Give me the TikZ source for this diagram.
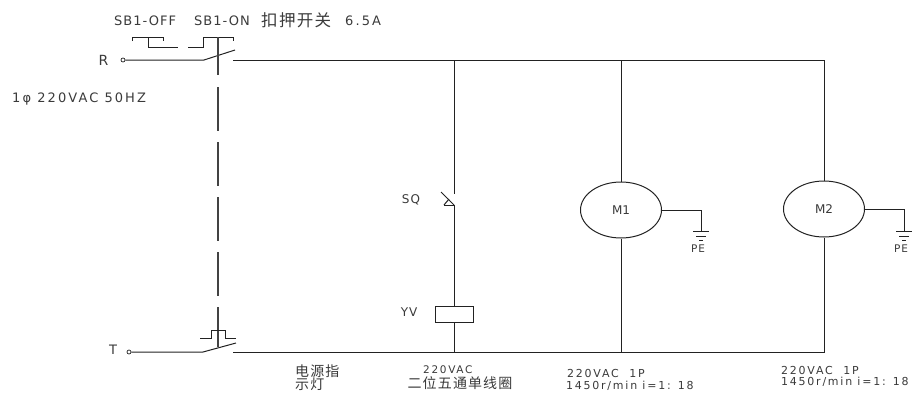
\documentclass[tikz,border=0pt]{standalone}
\usepackage{fontspec}
\setmainfont{DejaVu Sans}
\newfontfamily\wide[LetterSpace=8]{DejaVu Sans}
\newfontfamily\wider[LetterSpace=16]{DejaVu Sans}
\newfontfamily\cjk[LetterSpace=8]{Noto Sans CJK SC}
\usetikzlibrary{shapes.geometric}
\definecolor{wire}{HTML}{222222}
\definecolor{lettering}{HTML}{3A3A3A}
\tikzset{>=latex}
\tikzset{
  wireline/.style={draw=wire, line width=1pt},
  linkline/.style={draw=wire!85, line width=1.4pt},
  terminal/.style={circle, draw=wire, line width=0.7pt, minimum size=4pt, inner sep=0pt},
  motor/.style={ellipse, draw=wire, line width=1pt, minimum width=81pt, minimum height=56pt, inner sep=0pt, font=\fontsize{12}{12}\selectfont, text=lettering},
  coil/.style={rectangle, draw=wire, line width=1pt, minimum width=38pt, minimum height=16pt, inner sep=0pt},
  tag/.style={inner sep=0pt, text=lettering, font=\wide\fontsize{13}{13}\selectfont},
  small/.style={inner sep=0pt, text=lettering, font=\wider\fontsize{11}{11}\selectfont},
  han/.style={inner sep=0pt, text=lettering, font=\cjk\fontsize{14}{14}\selectfont},
}
\begin{document}
\begin{tikzpicture}[x=1pt, y=-1pt]
    \useasboundingbox (0, 0) rectangle (919, 392);
    % labels
    \node[tag, anchor=west] (offlabel) at (114, 21) {SB1-OFF};
    \node[tag, anchor=west] (onlabel) at (194, 21) {SB1-ON};
    \node[han, anchor=west, font=\cjk\fontsize{16.5}{16.5}\selectfont] (switchname) at (261, 20) {扣押开关};
    \node[tag, anchor=west, font=\wider\fontsize{13}{13}\selectfont] (rating) at (345, 21) {6.5A};
    \node[tag, font=\fontsize{14}{14}\selectfont] (rlabel) at (103.5, 60) {R};
    \node[tag, font=\fontsize{13}{13}\selectfont] (tlabel) at (113, 350) {T};
    \node[tag, anchor=west, font=\wider\fontsize{13}{13}\selectfont] (supply) at (12, 99) {1φ 220VAC 50HZ};
    \node[tag, font=\wide\fontsize{12}{12}\selectfont] (sqlabel) at (411, 200) {SQ};
    \node[tag, font=\wide\fontsize{12}{12}\selectfont] (yvlabel) at (409, 312) {YV};
    \node[han, anchor=west] (lampa) at (295, 371) {电源指};
    \node[han, anchor=west] (lampb) at (295, 384) {示灯};
    \node[small, anchor=west, font=\wider\fontsize{10.5}{10.5}\selectfont] (volts) at (423, 370) {220VAC};
    \node[han] (valve) at (460, 383) {二位五通单线圈};
    \node[small, anchor=west] (mota) at (567, 373) {220VAC\ \ 1P};
    \node[small, anchor=west] (motb) at (566, 386) {1450r/min\ i=1: 18};
    \node[small, anchor=west] (motc) at (781, 370) {220VAC\ \ 1P};
    \node[small, anchor=west] (motd) at (781, 382) {1450r/min\ i=1: 18};
    % terminals
    \node[terminal] (R) at (123, 60) {};
    \node[terminal] (T) at (129, 352) {};
    % consumers
    \node[motor] (M1) at (621, 210) {M1};
    \node[motor] (M2) at (824, 209) {M2};
    \node[coil] (YV) at (454, 314) {};
    % top rail
    \coordinate (Rblade) at (204, 60);
    \coordinate (Rtip) at (235, 50);
    \coordinate (Rout) at (233, 60);
    \coordinate (Ra) at (454, 60);
    \coordinate (Rb) at (621, 60);
    \coordinate (Rc) at (824, 60);
    % bottom rail
    \coordinate (Tblade) at (203, 352);
    \coordinate (Ttip) at (236, 343);
    \coordinate (Tout) at (233, 352);
    \coordinate (Ta) at (454, 352);
    \coordinate (Tb) at (621, 352);
    \coordinate (Tc) at (824, 352);
    \draw[wireline] (R) -- (Rblade) -- (Rtip);
    \draw[wireline] (Rout) -- (Rc) -- (M2);
    \draw[wireline] (T) -- (Tblade) -- (Ttip);
    \draw[wireline] (Tout) -- (Tc) -- (M2);
    \draw[wireline] (Rb) -- (M1);
    \draw[wireline] (Tb) -- (M1);
    % sq contact
    \coordinate (SQtop) at (454, 194);
    \coordinate (SQbot) at (454, 205);
    \coordinate (SQfree) at (441, 192);
    \coordinate (SQfoot) at (444, 205);
    \coordinate (SQapex) at (449, 199);
    \draw[wireline] (Ra) -- (SQtop);
    \draw[wireline] (SQfree) -- (SQbot);
    \draw[wireline] (SQfoot) -- (SQbot) -- (YV);
    \draw[wireline] (SQfoot) -- (SQapex);
    \draw[wireline] (YV) -- (Ta);
    % push buttons
    \coordinate (offa) at (132, 41);
    \coordinate (offb) at (132, 37);
    \coordinate (offc) at (163, 37);
    \coordinate (offd) at (163, 41);
    \coordinate (offe) at (148, 37);
    \coordinate (offf) at (148, 47);
    \coordinate (offg) at (178, 47);
    \draw[wireline] (offa) -- (offb) -- (offc) -- (offd);
    \draw[wireline] (offe) -- (offf) -- (offg);
    \coordinate (ona) at (203, 41);
    \coordinate (onb) at (203, 37);
    \coordinate (onc) at (233, 37);
    \coordinate (ond) at (233, 41);
    \coordinate (one) at (203, 47);
    \coordinate (onf) at (188, 47);
    \draw[wireline] (ona) -- (onb) -- (onc) -- (ond);
    \draw[wireline] (onb) -- (one) -- (onf);
    % linkage
    \coordinate (linka) at (218, 37);
    \coordinate (linkb) at (218, 75);
    \coordinate (linkc) at (218, 87);
    \coordinate (linkd) at (218, 308);
    \coordinate (linke) at (218, 347);
    \draw[linkline] (linka) -- (linkb);
    \draw[linkline, dash pattern=on 44pt off 11pt] (linkc) -- (linkd);
    \draw[linkline] (linkd) -- (linke);
    \coordinate (pa) at (200, 338);
    \coordinate (pb) at (211, 338);
    \coordinate (pc) at (211, 330);
    \coordinate (pd) at (225, 330);
    \coordinate (pe) at (225, 338);
    \coordinate (pf) at (236, 338);
    \draw[wireline] (pa) -- (pb) -- (pc) -- (pd) -- (pe) -- (pf);
    % earth
    \foreach \mot/\ex/\ey/\lab in {M1/701/210/pea, M2/904/209/peb}{
      \coordinate (\lab corner) at (\ex, \ey);
      \coordinate (\lab foot) at (\ex, 231);
      \draw[wireline] (\mot) -- (\lab corner) -- (\lab foot);
      \draw[wireline] (\ex-8, 231) -- (\ex+8, 231);
      \draw[wireline] (\ex-5, 236) -- (\ex+5, 236);
      \draw[wireline] (\ex-2, 240) -- (\ex+2, 240);
      \node[small, font=\wide\fontsize{10.5}{10.5}\selectfont] (\lab) at (\ex-3, 249) {PE};
    }
\end{tikzpicture}
\end{document}
